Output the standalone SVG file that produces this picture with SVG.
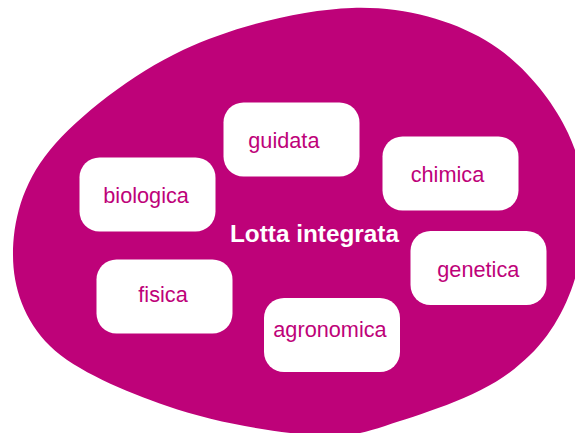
<svg xmlns="http://www.w3.org/2000/svg" width="575" height="433" viewBox="0 0 575 433">
  <style>
    .box { fill: #ffffff; }
    .lbl { font-family: "Liberation Sans", Arial, sans-serif; font-size: 21.7px; fill: #BE0279; }
    .title { font-family: "Liberation Sans", Arial, sans-serif; font-size: 24px; font-weight: bold; fill: #ffffff; }
  </style>
  <rect x="0" y="0" width="575" height="433" fill="#ffffff"/>
  <g id="blob">
    <path fill="#BE0279" d="M13 255 C13 222.3 21.7 184.2 50 150 C78.3 115.8 132.7 73.7 183 50 C233.3 26.3 301.7 9.7 352 8 C402.3 6.3 449 19.2 485 40 C521 60.8 552.5 99.7 568 133 C583.5 166.3 590 201.7 582 245 C577 287 557 334 520 364 C487 395 421.3 414.2 385 426 C348.7 437.8 336.3 437.3 300 434 C263.7 430.7 208.7 420.7 167 406 C125.3 391.3 75.7 371.2 50 346 C24.3 320.8 13 287.7 13 255 Z"/>
  </g>
  <g id="connectors"></g>
  <g id="center">
    <text class="title" x="230" y="241.7" textLength="169" lengthAdjust="spacingAndGlyphs">Lotta integrata</text>
  </g>
  <g id="node-guidata">
    <rect class="box" x="223.5" y="102.5" width="136" height="74" rx="20"/>
    <text class="lbl" x="248.3" y="147.7">guidata</text>
  </g>
  <g id="node-biologica">
    <rect class="box" x="79.5" y="157.5" width="136" height="74" rx="20"/>
    <text class="lbl" x="103.3" y="203.3">biologica</text>
  </g>
  <g id="node-chimica">
    <rect class="box" x="382.5" y="136.5" width="136" height="74" rx="20"/>
    <text class="lbl" x="410.7" y="181.7">chimica</text>
  </g>
  <g id="node-genetica">
    <rect class="box" x="410.5" y="231" width="136" height="74" rx="20"/>
    <text class="lbl" x="437.3" y="276.7">genetica</text>
  </g>
  <g id="node-fisica">
    <rect class="box" x="96.5" y="259.5" width="136" height="74" rx="20"/>
    <text class="lbl" x="138.3" y="301.7">fisica</text>
  </g>
  <g id="node-agronomica">
    <rect class="box" x="264" y="298" width="136" height="74" rx="20"/>
    <text class="lbl" x="273.3" y="337.3">agronomica</text>
  </g>
</svg>
